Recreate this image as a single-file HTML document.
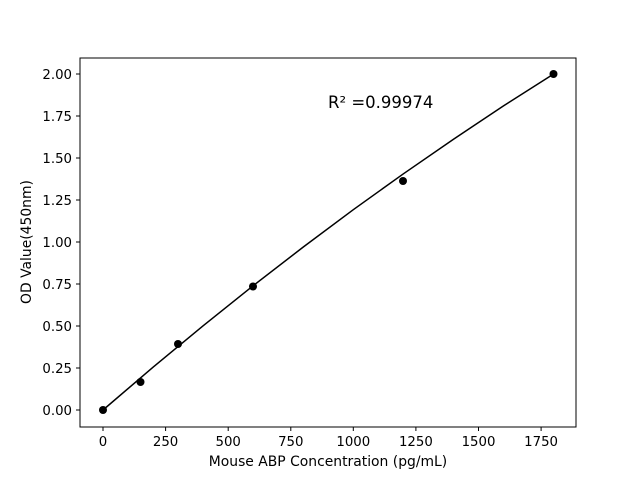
<!DOCTYPE html>
<html><head><meta charset="utf-8"><style>body{margin:0;background:#fff}</style></head><body>
<svg width="640" height="480" xmlns="http://www.w3.org/2000/svg" font-family="DejaVu Sans, Liberation Sans, sans-serif">
<rect width="640" height="480" fill="#fff"/>
<rect x="80" y="58" width="496" height="369" fill="none" stroke="#000" stroke-width="1"/>
<g stroke="#000" stroke-width="1">
<line x1="103" y1="427" x2="103" y2="431"/><line x1="165.6" y1="427" x2="165.6" y2="431"/><line x1="228.2" y1="427" x2="228.2" y2="431"/><line x1="290.8" y1="427" x2="290.8" y2="431"/><line x1="353.3" y1="427" x2="353.3" y2="431"/><line x1="415.9" y1="427" x2="415.9" y2="431"/><line x1="478.5" y1="427" x2="478.5" y2="431"/><line x1="541.1" y1="427" x2="541.1" y2="431"/>
<line x1="76" y1="410" x2="80" y2="410"/><line x1="76" y1="368" x2="80" y2="368"/><line x1="76" y1="326" x2="80" y2="326"/><line x1="76" y1="284" x2="80" y2="284"/><line x1="76" y1="242" x2="80" y2="242"/><line x1="76" y1="200" x2="80" y2="200"/><line x1="76" y1="158" x2="80" y2="158"/><line x1="76" y1="116" x2="80" y2="116"/><line x1="76" y1="74" x2="80" y2="74"/>
</g>
<g font-size="13.3" text-anchor="middle" fill="#000">
<text x="103" y="446">0</text><text x="165.6" y="446">250</text><text x="228.2" y="446">500</text><text x="290.8" y="446">750</text><text x="353.3" y="446">1000</text><text x="415.9" y="446">1250</text><text x="478.5" y="446">1500</text><text x="541.1" y="446">1750</text>
</g>
<g font-size="13.3" text-anchor="end" fill="#000">
<text x="72" y="415">0.00</text><text x="72" y="373">0.25</text><text x="72" y="331">0.50</text><text x="72" y="289">0.75</text><text x="72" y="247">1.00</text><text x="72" y="205">1.25</text><text x="72" y="163">1.50</text><text x="72" y="121">1.75</text><text x="72" y="79">2.00</text>
</g>
<text x="328" y="466" font-size="13.9" text-anchor="middle">Mouse ABP Concentration (pg/mL)</text>
<text transform="translate(31,242) rotate(-90)" font-size="13.9" text-anchor="middle">OD Value(450nm)</text>
<text x="328" y="108" font-size="16.5">R² =0.99974</text>
<polyline fill="none" stroke="#000" stroke-width="1.5" points="103,410 153.06,367.2 203.1,325.8 253.2,285.7 303.3,247 353.3,209.7 403.4,173.8 453.5,139.2 503.5,105.9 553.6,74"/>
<g fill="#000">
<circle cx="103" cy="410" r="4"/><circle cx="140.5" cy="382" r="4"/><circle cx="178" cy="344" r="4"/><circle cx="253" cy="286.5" r="4"/><circle cx="403" cy="181" r="4"/><circle cx="553.5" cy="74" r="4"/>
</g>
</svg>
</body></html>
